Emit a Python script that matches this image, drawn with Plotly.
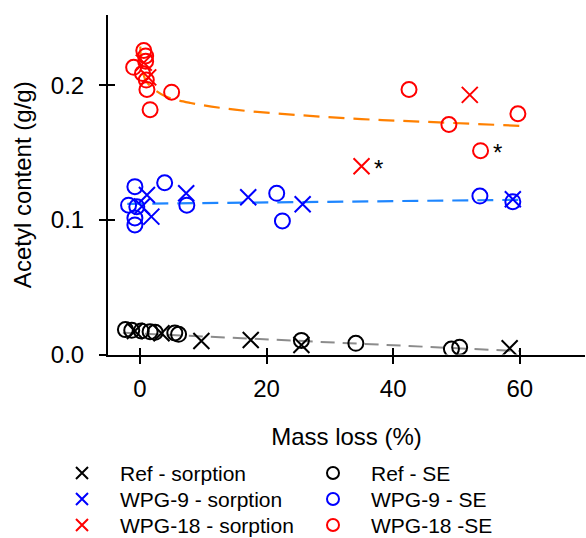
import plotly.graph_objects as go

# ---------------- data ----------------
ref_sorp_x = [-0.8, 3.4, 9.7, 17.5, 25.5, 58.4]
ref_sorp_y = [0.0175, 0.0158, 0.0100, 0.0108, 0.0071, 0.0046]
ref_se_x = [-2.3, -1.3, 0.2, 1.6, 2.4, 5.5, 6.1, 25.5, 34.1, 49.2, 50.5]
ref_se_y = [0.0185, 0.0180, 0.0175, 0.0170, 0.0165, 0.0160, 0.0150, 0.0105, 0.0083, 0.0040, 0.0054]

wpg9_sorp_x = [0.3, 1.1, 1.8, 7.3, 17.1, 25.7, 58.9]
wpg9_sorp_y = [0.110, 0.1186, 0.1025, 0.1199, 0.1169, 0.1117, 0.1154]
wpg9_se_x = [-1.8, -0.8, -0.5, -0.8, -0.8, 3.9, 7.4, 21.6, 22.5, 53.7, 58.9]
wpg9_se_y = [0.111, 0.1248, 0.1099, 0.1015, 0.0963, 0.1277, 0.111, 0.1198, 0.0993, 0.1178, 0.1136]

wpg18_sorp_x = [0.6, 1.3, 35.0, 52.1]
wpg18_sorp_y = [0.217, 0.206, 0.140, 0.193]
wpg18_se_x = [-1.0, 0.6, 0.9, 0.9, 0.4, 1.0, 1.1, 5.0, 1.6, 42.5, 48.8, 53.8, 59.7]
wpg18_se_y = [0.2135, 0.226, 0.222, 0.218, 0.209, 0.204, 0.197, 0.195, 0.182, 0.197, 0.171, 0.1515, 0.179]

# flagged (*) points (indices)
star_sorp_idx = [2]
star_se_idx = [11]

# fitted trend lines
fit18_x = [0.05, 0.2, 0.5, 1, 2, 4, 8, 15, 25, 35, 45, 60]
fit18_y = [0.229, 0.217, 0.209, 0.203, 0.198, 0.192, 0.187, 0.182, 0.178, 0.175, 0.173, 0.170]
fit9_x = [-2, 20, 40, 60]
fit9_y = [0.112, 0.113, 0.114, 0.115]
fitref_x = [-2.7, 60]
fitref_y = [0.0162, 0.0025]

x_ticks = [0, 20, 40, 60]
y_ticks = [0.0, 0.1, 0.2]
y_ticktext = ["0.0", "0.1", "0.2"]

labels = ["Ref - sorption", "Ref - SE", "WPG-9 - sorption", "WPG-9 - SE",
          "WPG-18 - sorption", "WPG-18 -SE"]
# legend grid placement (column, row) for each entry
legend_col = [0, 1, 0, 1, 0, 1]
legend_row = [0, 0, 1, 1, 2, 2]

FONT = "Arial, Liberation Sans, sans-serif"
BLACK, BLUE, RED = "#000000", "#0000FF", "#FF0000"
W, H = 586, 538

fig = go.Figure()

# trend lines
fig.add_trace(go.Scatter(x=fitref_x, y=fitref_y, mode="lines", showlegend=False,
                         line=dict(color="#8C8C8C", width=2, dash="14px,8px")))
fig.add_trace(go.Scatter(x=fit9_x, y=fit9_y, mode="lines", showlegend=False,
                         line=dict(color="#1E86FF", width=2.2, dash="16px,9px")))
fig.add_trace(go.Scatter(x=fit18_x, y=fit18_y, mode="lines", showlegend=False, line_shape="spline",
                         line=dict(color="#FF8000", width=2.2, dash="16px,9px")))

series = [
    (ref_sorp_x, ref_sorp_y, "x-thin-open", BLACK),
    (ref_se_x, ref_se_y, "circle-open", BLACK),
    (wpg9_sorp_x, wpg9_sorp_y, "x-thin-open", BLUE),
    (wpg9_se_x, wpg9_se_y, "circle-open", BLUE),
    (wpg18_sorp_x, wpg18_sorp_y, "x-thin-open", RED),
    (wpg18_se_x, wpg18_se_y, "circle-open", RED),
]
for (xs, ys, sym, col), name in zip(series, labels):
    size = 16 if "x" in sym else 15
    fig.add_trace(go.Scatter(x=xs, y=ys, mode="markers", showlegend=False, name=name,
                             marker=dict(symbol=sym, size=size, color=col,
                                         line=dict(color=col, width=2))))

# legend drawn on its own axis (columns / rows)
for (xs, ys, sym, col), name, c, r in zip(series, labels, legend_col, legend_row):
    fig.add_trace(go.Scatter(x=[c], y=[r], mode="markers", showlegend=False, name=name,
                             xaxis="x3", yaxis="y3", hoverinfo="skip",
                             marker=dict(symbol=sym, size=12, color=col,
                                         line=dict(color=col, width=2))))
    fig.add_annotation(x=c, y=r, xref="x3", yref="y3", text=name, showarrow=False,
                       xanchor="left", yanchor="middle", xshift=36,
                       font=dict(size=21, color="black", family=FONT))

# asterisks
for i in star_sorp_idx:
    fig.add_annotation(x=wpg18_sorp_x[i], y=wpg18_sorp_y[i], text="*", showarrow=False,
                       xshift=17, yshift=-2, font=dict(size=24, color="black", family=FONT))
for i in star_se_idx:
    fig.add_annotation(x=wpg18_se_x[i], y=wpg18_se_y[i], text="*", showarrow=False,
                       xshift=17, yshift=-2, font=dict(size=24, color="black", family=FONT))

# geometry (pixels)
px_l, px_r, px_t, px_b = 108, 585, 15, 354.5
xr = [-5.05, 70.3]
yr = [0, 0.2524]
xdom = [px_l / W, px_r / W]
ydom = [(H - px_b) / H, (H - px_t) / H]

axis_common = dict(showgrid=False, zeroline=False, linecolor="black", linewidth=2,
                   tickcolor="black", tickwidth=2, ticklen=7, automargin=False,
                   tickfont=dict(size=24, color="black", family=FONT))

# legend axis: column c -> px 82 + 251*c ; row r -> py 473 + 26*r
leg_x0, leg_dx = 82, 251
leg_y0, leg_dy = 473, 26
leg_top_frac = 0.30
leg_top_px = H * (1 - leg_top_frac)
x3_range = [(0 - leg_x0) / leg_dx, (W - leg_x0) / leg_dx]
y3_range = [(H - leg_y0) / leg_dy, (leg_top_px - leg_y0) / leg_dy]

fig.update_layout(
    width=W, height=H,
    margin=dict(l=0, r=0, t=0, b=0),
    paper_bgcolor="white", plot_bgcolor="white",
    font=dict(family=FONT, size=24, color="black"),
    showlegend=False,
    xaxis=dict(domain=xdom, range=xr, tickvals=x_ticks, ticks="outside", showline=True,
               anchor="y",
               title=dict(text="Mass loss (%)", standoff=27, font=dict(size=24)),
               ticklabelstandoff=5, **axis_common),
    yaxis=dict(domain=ydom, range=yr, tickvals=y_ticks, ticktext=y_ticktext,
               ticks="outside", showline=True, anchor="x",
               title=dict(text="Acetyl content (g/g)", standoff=12, font=dict(size=24)),
               ticklabelstandoff=10, **axis_common),
    xaxis2=dict(domain=xdom, range=xr, overlaying="x", tickvals=x_ticks, ticks="inside",
                showticklabels=False, showline=False, showgrid=False, zeroline=False,
                tickcolor="black", tickwidth=2, ticklen=7, side="bottom", anchor="y"),
    yaxis2=dict(domain=ydom, range=yr, overlaying="y", tickvals=y_ticks, ticks="inside",
                showticklabels=False, showline=False, showgrid=False, zeroline=False,
                tickcolor="black", tickwidth=2, ticklen=7, side="left", anchor="x"),
    xaxis3=dict(domain=[0, 1], range=x3_range, visible=False, anchor="y3"),
    yaxis3=dict(domain=[0, leg_top_frac], range=y3_range, visible=False, anchor="x3"),
)
# dummy trace to activate overlay tick axes
fig.add_trace(go.Scatter(x=[None], y=[None], xaxis="x2", yaxis="y2", showlegend=False))

fig.write_html("out.html", config={"displayModeBar": False},
               post_script="document.body.style.margin='0';document.body.style.padding='0';")
